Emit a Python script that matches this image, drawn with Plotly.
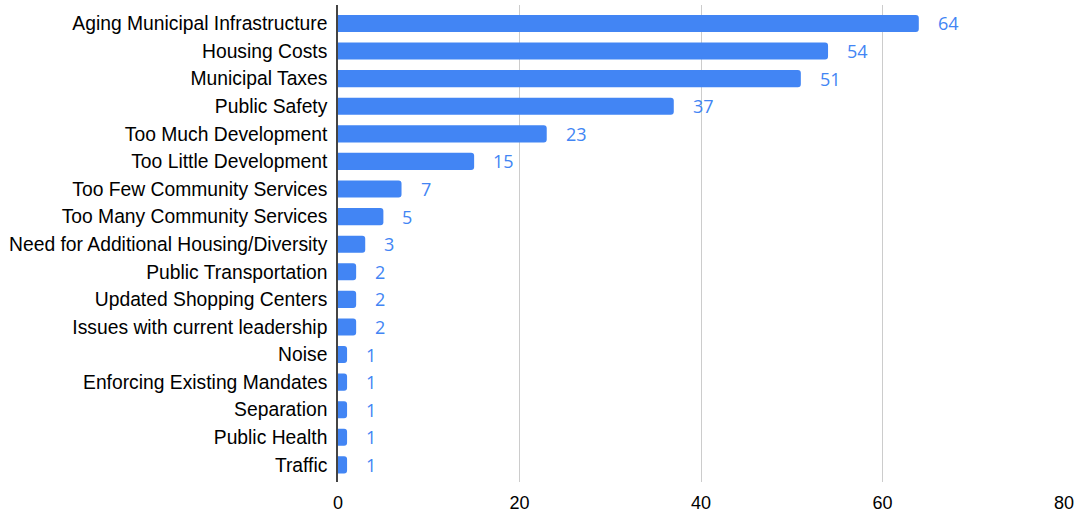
import plotly.graph_objects as go

categories = [
    "Aging Municipal Infrastructure", "Housing Costs", "Municipal Taxes", "Public Safety",
    "Too Much Development", "Too Little Development", "Too Few Community Services",
    "Too Many Community Services", "Need for Additional Housing/Diversity",
    "Public Transportation", "Updated Shopping Centers", "Issues with current leadership",
    "Noise", "Enforcing Existing Mandates", "Separation", "Public Health", "Traffic",
]
values = [64, 54, 51, 37, 23, 15, 7, 5, 3, 2, 2, 2, 1, 1, 1, 1, 1]
x_ticks = [0, 20, 40, 60, 80]

BLUE = "#4285F4"

fig = go.Figure()
fig.add_trace(go.Bar(
    x=values, y=categories, orientation="h",
    marker=dict(color=BLUE, cornerradius=3, line=dict(width=0)),
    width=0.62, hoverinfo="x+y",
))

for c, v in zip(categories, values):
    fig.add_annotation(
        x=v, y=c, text=str(v), showarrow=False, xanchor="left", xshift=17,
        font=dict(family="Open Sans, Roboto, Arial", size=18, color=BLUE),
    )

fig.update_layout(
    width=1079, height=514,
    margin=dict(l=338, r=15, t=5, b=32),
    plot_bgcolor="white", paper_bgcolor="white",
    showlegend=False,
    font=dict(family="Liberation Sans, Arial", size=19.3, color="#000000"),
    xaxis=dict(
        range=[0, 80], tickvals=x_ticks, showgrid=True, gridcolor="#cccccc", gridwidth=1,
        zeroline=False, showline=False, ticks="", tickfont=dict(size=18),
        automargin=False, ticklabelstandoff=8,
    ),
    yaxis=dict(
        categoryorder="array", categoryarray=categories,
        range=[16.62, -0.67], showgrid=False, zeroline=False,
        showline=True, linecolor="#444444", linewidth=1.5, ticks="", ticklabelstandoff=5,
        tickfont=dict(size=19.3), automargin=False,
    ),
)

fig.write_html(
    "out.html",
    config={"displayModeBar": False},
    post_script="document.body.style.margin='0';document.body.style.overflow='hidden';",
)
